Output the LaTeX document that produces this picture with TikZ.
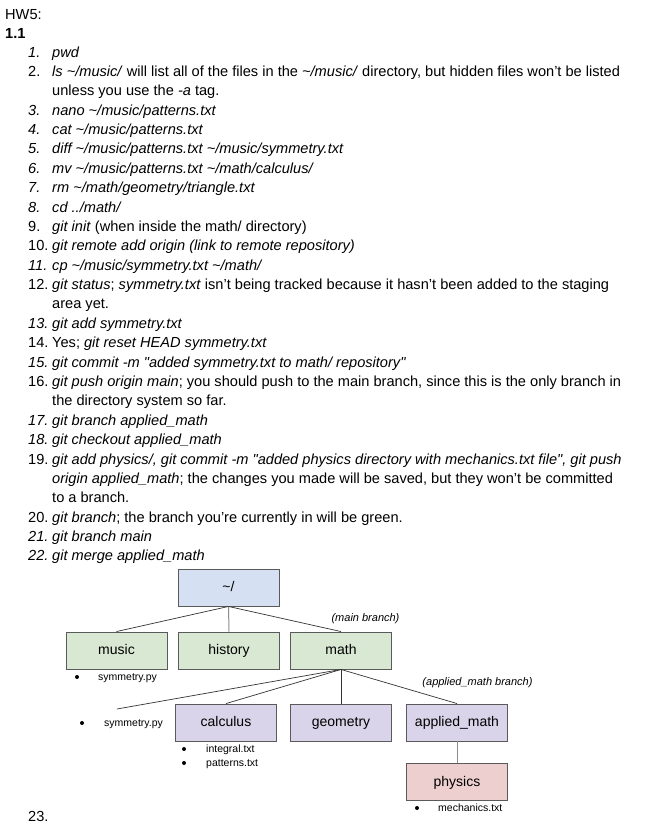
\documentclass[tikz,border=0pt]{standalone}
\usepackage{fontspec}
\setmainfont{Liberation Sans}[Ligatures=TeXOff]
\newcommand\tld{\textasciitilde}
\definecolor{rootfill}{HTML}{D5E0F2}
\definecolor{greenfill}{HTML}{D9E8D3}
\definecolor{purplefill}{HTML}{D9D4E9}
\definecolor{pinkfill}{HTML}{EDCFCF}
\definecolor{boxline}{HTML}{5A5A5A}
\definecolor{linecol}{HTML}{333333}
\definecolor{glinecol}{HTML}{8C8C8C}
\begin{document}
\begin{tikzpicture}[x=1pt,y=-1pt,
  txt/.style={anchor=base west, inner sep=0pt, font=\fontsize{14.6}{16}\selectfont},
  box/.style={draw=boxline, line width=0.9pt, minimum width=101pt, minimum height=37pt, inner sep=0pt, text height=10.6pt, text depth=2.4pt, font=\fontsize{14}{16}\selectfont},
  small/.style={anchor=base west, inner sep=0pt, font=\fontsize{10.5}{12}\selectfont},
  note/.style={inner sep=0pt, font=\fontsize{11}{13}\selectfont\itshape},
  dot/.style={circle, fill=black, inner sep=0pt, minimum size=4pt},
  link/.style={draw=linecol, line width=0.7pt},
  glink/.style={draw=glinecol, line width=1pt}]
\useasboundingbox (0,0) rectangle (656,836);
\fill[white] (0,0) rectangle (656,836);

% header
\node[txt] (hw) at (5,19) {HW5:};
\node[txt,font=\fontsize{14.6}{16}\selectfont\bfseries] (h11) at (5,38) {1.1};

% list
\node[txt] (n1) at (28,57) {\textit{1.}};
\node[txt] (t1) at (52,57) {\textit{pwd}};
\node[txt] (n2) at (28,76.4) {2.};
\node[txt] (t2) at (52,76.4) {\textit{ls \tld/music/} will list all of the files in the \textit{\tld/music/} directory, but hidden files won’t be listed};
\node[txt] (t2b) at (52,95.8) {unless you use the \textit{-a} tag.};
\node[txt] (n3) at (28,115.1) {\textit{3.}};
\node[txt] (t3) at (52,115.1) {\textit{nano \tld/music/patterns.txt}};
\node[txt] (n4) at (28,134.5) {\textit{4.}};
\node[txt] (t4) at (52,134.5) {\textit{cat \tld/music/patterns.txt}};
\node[txt] (n5) at (28,153.9) {\textit{5.}};
\node[txt] (t5) at (52,153.9) {\textit{diff \tld/music/patterns.txt \tld/music/symmetry.txt}};
\node[txt] (n6) at (28,173.3) {\textit{6.}};
\node[txt] (t6) at (52,173.3) {\textit{mv \tld/music/patterns.txt \tld/math/calculus/}};
\node[txt] (n7) at (28,192.7) {\textit{7.}};
\node[txt] (t7) at (52,192.7) {\textit{rm \tld/math/geometry/triangle.txt}};
\node[txt] (n8) at (28,212.0) {\textit{8.}};
\node[txt] (t8) at (52,212.0) {\textit{cd ../math/}};
\node[txt] (n9) at (28,231.4) {9.};
\node[txt] (t9) at (52,231.4) {\textit{git init} (when inside the math/ directory)};
\node[txt] (n10) at (28,250.8) {10.};
\node[txt] (t10) at (52,250.8) {\textit{git remote add origin (link to remote repository)}};
\node[txt] (n11) at (28,270.2) {\textit{11.}};
\node[txt] (t11) at (52,270.2) {\textit{cp \tld/music/symmetry.txt \tld/math/}};
\node[txt] (n12) at (28,289.6) {12.};
\node[txt] (t12) at (52,289.6) {\textit{git status}; \textit{symmetry.txt} isn’t being tracked because it hasn’t been added to the staging};
\node[txt] (t12b) at (52,308.9) {area yet.};
\node[txt] (n13) at (28,328.3) {\textit{13.}};
\node[txt] (t13) at (52,328.3) {\textit{git add symmetry.txt}};
\node[txt] (n14) at (28,347.7) {14.};
\node[txt] (t14) at (52,347.7) {Yes; \textit{git reset HEAD symmetry.txt}};
\node[txt] (n15) at (28,367.1) {\textit{15.}};
\node[txt] (t15) at (52,367.1) {\textit{git commit -m "added symmetry.txt to math/ repository"}};
\node[txt] (n16) at (28,386.5) {16.};
\node[txt] (t16) at (52,386.5) {\textit{git push origin main}; you should push to the main branch, since this is the only branch in};
\node[txt] (t16b) at (52,405.8) {the directory system so far.};
\node[txt] (n17) at (28,425.2) {\textit{17.}};
\node[txt] (t17) at (52,425.2) {\textit{git branch applied\_math}};
\node[txt] (n18) at (28,444.6) {\textit{18.}};
\node[txt] (t18) at (52,444.6) {\textit{git checkout applied\_math}};
\node[txt] (n19) at (28,464.0) {19.};
\node[txt] (t19) at (52,464.0) {\textit{git add physics/, git commit -m "added physics directory with mechanics.txt file", git push}};
\node[txt] (t19b) at (52,483.4) {\textit{origin applied\_math}; the changes you made will be saved, but they won’t be committed};
\node[txt] (t19c) at (52,502.7) {to a branch.};
\node[txt] (n20) at (28,522.1) {20.};
\node[txt] (t20) at (52,522.1) {\textit{git branch}; the branch you’re currently in will be green.};
\node[txt] (n21) at (28,541.5) {\textit{21.}};
\node[txt] (t21) at (52,541.5) {\textit{git branch main}};
\node[txt] (n22) at (28,560.9) {\textit{22.}};
\node[txt] (t22) at (52,560.9) {\textit{git merge applied\_math}};
\node[txt] (n23) at (28,821) {23.};

% tree
\node[box, fill=rootfill] (root) at (228.5,587.5) {\tld/};
\node[box, fill=greenfill] (music) at (116.5,650.5) {music};
\node[box, fill=greenfill] (history) at (229,650.5) {history};
\node[box, fill=greenfill] (math) at (341,650.5) {math};
\node[box, fill=purplefill] (calc) at (226,722.5) {calculus};
\node[box, fill=purplefill] (geom) at (341,722.5) {geometry};
\node[box, fill=purplefill] (appl) at (457,722.5) {applied\_math};
\node[box, fill=pinkfill] (phys) at (457,782) {physics};
\coordinate (symend) at (117,709);

\draw[link] (root.south) -- (music.north);
\draw[glink] (root.south) -- (history.north);
\draw[link] (root.south) -- (math.north);
\draw[link] (math.south) -- (symend);
\draw[link] (math.south) -- (calc.north);
\draw[link] (math.south) -- (geom.north);
\draw[link] (math.south) -- (appl.north);
\draw[glink] (appl.south) -- (phys.north);

\node[note] (mainbr) at (365.5,619) {(main branch)};
\node[note] (applbr) at (477.5,683) {(applied\_math branch)};

% file lists
\node[dot] (d1) at (77,677) {};
\node[small] (f1) at (98,680.8) {symmetry.py};
\node[dot] (d2) at (82,723) {};
\node[small] (f2) at (104,726.8) {symmetry.py};
\node[dot] (d3) at (184,749) {};
\node[small] (f3) at (206,752.8) {integral.txt};
\node[dot] (d4) at (184,763) {};
\node[small] (f4) at (206,766.8) {patterns.txt};
\node[dot] (d5) at (417,808) {};
\node[small] (f5) at (438,811.8) {mechanics.txt};
\end{tikzpicture}
\end{document}
